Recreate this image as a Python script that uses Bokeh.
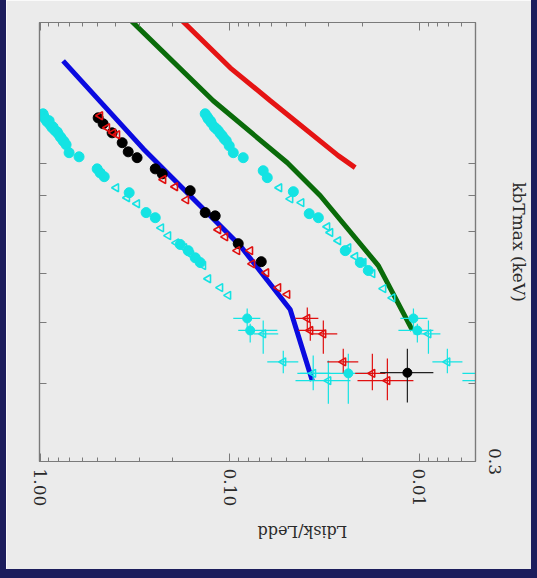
import math
from bokeh.plotting import figure
from bokeh.models import Range1d, LogAxis, FixedTicker, PrintfTickFormatter, CustomJSTickFormatter
from bokeh.embed import file_html
from bokeh.resources import INLINE

# ---------------- data (Ldisk/Ledd , kT_max in keV) ----------------
L_major = [1.0, 0.1, 0.01]
L_minor = [m * 10.0 ** e for e in (-1, -2, -3) for m in range(2, 10)]
kT_label_ticks = [0.3]
kT_minor = [0.4, 0.5, 0.6, 0.7, 0.8, 0.9]

# model lines
blue_L = [0.756, 0.286, 0.0880, 0.0480, 0.0367]
blue_kT = [1.311, 0.949, 0.664, 0.525, 0.404]
green_L = [0.352, 0.1222, 0.0497, 0.0333, 0.01646, 0.01088]
green_kT = [1.548, 1.132, 0.901, 0.798, 0.617, 0.486]
red_L = [0.1825, 0.0994, 0.0611, 0.0268, 0.0218]
red_kT = [1.531, 1.278, 1.132, 0.925, 0.885]

# cyan filled circles
cyan_circ_L = [0.964, 0.952, 0.941, 0.919, 0.896, 0.885, 0.864, 0.854, 0.834, 0.813, 0.804, 0.784,
               0.775, 0.756, 0.747, 0.729, 0.703, 0.623,
               0.500, 0.482, 0.459, 0.339, 0.276, 0.247, 0.1825, 0.1656, 0.152, 0.1431,
               0.1347, 0.1314, 0.1299, 0.1267, 0.1252, 0.1207, 0.1178, 0.115, 0.1122, 0.1095,
               0.1069, 0.1043, 0.1006, 0.0958, 0.0849,
               0.0666, 0.0634, 0.0462, 0.0381, 0.0341, 0.0246, 0.0205, 0.0186]
cyan_circ_kT = [1.079, 1.067, 1.059, 1.048, 1.052, 1.036, 1.025, 1.028, 1.014, 1.010, 1.003, 0.992,
                0.988, 0.977, 0.974, 0.963, 0.935, 0.921,
                0.881, 0.868, 0.856, 0.807, 0.750, 0.736, 0.667, 0.652, 0.635, 0.624,
                1.079, 1.067, 1.059, 1.052, 1.044, 1.028, 1.021, 1.014, 1.003, 0.995,
                0.984, 0.977, 0.959, 0.935, 0.918,
                0.875, 0.853, 0.810, 0.747, 0.736, 0.652, 0.624, 0.606]
# cyan open triangles
cyan_tri_L = [0.397, 0.3475, 0.308, 0.230, 0.211, 0.1915, 0.1738, 0.1596, 0.1484, 0.138, 0.1299, 0.1122, 0.1018,
              0.0548, 0.0479, 0.0419, 0.0306, 0.0295, 0.0268, 0.0237, 0.0218, 0.0197, 0.0177, 0.01549, 0.01388]
cyan_tri_kT = [0.822, 0.792, 0.775, 0.709, 0.689, 0.671, 0.659, 0.642, 0.630, 0.617, 0.588, 0.569, 0.553,
               0.822, 0.789, 0.778, 0.712, 0.697, 0.676, 0.659, 0.638, 0.624, 0.599, 0.567, 0.548]
# cyan points with error bars
cyan_eb_circ_L = [0.0809, 0.078, 0.0237, 0.01075, 0.01025]
cyan_eb_circ_kT = [0.508, 0.486, 0.415, 0.508, 0.486]
cyan_eb_tri_L = [0.0666, 0.0522, 0.0363, 0.0302, 0.00896, 0.00712, 0.00477, 0.00477]
cyan_eb_tri_kT = [0.480, 0.433, 0.415, 0.404, 0.480, 0.433, 0.415, 0.404]
cyan_eb_L = cyan_eb_circ_L + cyan_eb_tri_L
cyan_eb_kT = cyan_eb_circ_kT + cyan_eb_tri_kT
cyan_L_hi = [0.0958, 0.0902, 0.0425, 0.0126, 0.0129, 0.0751, 0.0634, 0.0440, 0.0450, 0.01075, 0.00854, 0.00593, 0.00593]
cyan_L_lo = [0.0690, 0.0561, 0.0175, 0.00907, 0.00844, 0.0555, 0.0435, 0.0295, 0.0231, 0.00775, 0.00593, 0.0040, 0.0040]
cyan_kT_lo = [0.486, 0.465, 0.371, 0.486, 0.465, 0.446, 0.415, 0.390, 0.371, 0.446, 0.415, 0.390, 0.371]
cyan_kT_hi = [0.527, 0.498, 0.446, 0.527, 0.498, 0.504, 0.451, 0.443, 0.435, 0.504, 0.4545, 0.443, 0.435]

# red open triangles
red_tri_L = [0.482, 0.443, 0.412, 0.392, 0.224, 0.194, 0.1697, 0.115, 0.1056, 0.0913, 0.078, 0.0761, 0.0642, 0.0555, 0.0497]
red_tri_kT = [1.071, 1.025, 1.006, 0.999, 0.847, 0.825, 0.786, 0.704, 0.686, 0.652, 0.652, 0.621, 0.601, 0.569, 0.555]
red_eb_L = [0.0390, 0.0376, 0.0321, 0.0252, 0.0177, 0.01475]
red_eb_kT = [0.508, 0.486, 0.480, 0.433, 0.415, 0.404]
red_L_hi = [0.0451, 0.0435, 0.0376, 0.0306, 0.0218, 0.0212]
red_L_lo = [0.0341, 0.0313, 0.0271, 0.0210, 0.0151, 0.01075]
red_kT_lo = [0.486, 0.468, 0.446, 0.415, 0.390, 0.376]
red_kT_hi = [0.529, 0.502, 0.504, 0.4545, 0.446, 0.4385]

# black filled circles
black_L = [0.494, 0.465, 0.417, 0.369, 0.343, 0.308, 0.247, 0.227, 0.1616, 0.1347, 0.1193, 0.0902, 0.0682]
black_kT = [1.063, 1.040, 1.006, 0.970, 0.938, 0.918, 0.881, 0.865, 0.813, 0.750, 0.741, 0.669, 0.626]
black_eb_L = [0.01157]
black_eb_kT = [0.416]
black_L_hi = [0.0161]
black_L_lo = [0.00844]
black_kT_lo = [0.3727]
black_kT_hi = [0.4545]

# ---------------- styling ----------------
NAVY = "#1c1d5c"
PANEL = "#ebebeb"
FRAME = "#7a7a7a"
TXT = "#2a2a2a"
CYAN = "#14e3e3"
RED = "#e00f0f"
BLACK = "#000000"
BLUE = "#0a0ae0"
GREEN = "#0a6b0a"
RED_LINE = "#e51414"
FONT = "DejaVu Serif"

p = figure(width=525, height=569, x_axis_type="log", y_axis_type="log",
           x_range=Range1d(1.007, 0.00506), y_range=Range1d(0.3, 1.51),
           x_axis_location="below", y_axis_location="right",
           output_backend="svg", toolbar_location=None,
           min_border_left=33, min_border_right=68, min_border_top=22, min_border_bottom=117,
           background_fill_color=PANEL, border_fill_color=PANEL,
           outline_line_color=FRAME, outline_line_width=1.2)
p.styles = {"box-sizing": "content-box",
            "border-left": f"6px solid {NAVY}", "border-right": f"6px solid {NAVY}",
            "border-bottom": f"9px solid {NAVY}", "border-top": "0px"}
p.grid.visible = False


def style_axis(ax):
    ax.axis_line_color = FRAME
    ax.axis_line_width = 1.2
    ax.major_tick_line_color = FRAME
    ax.minor_tick_line_color = FRAME
    ax.major_tick_out = 0
    ax.minor_tick_out = 0
    ax.major_label_text_font = FONT
    ax.major_label_text_color = TXT
    ax.major_label_text_font_size = "17px"
    ax.axis_label_text_font = FONT
    ax.axis_label_text_color = TXT
    ax.axis_label_text_font_style = "normal"
    ax.axis_label_text_font_size = "16px"


# bottom: Ldisk/Ledd
bx = p.xaxis[0]
style_axis(bx)
bx.ticker = FixedTicker(ticks=L_major, minor_ticks=L_minor)
bx.formatter = PrintfTickFormatter(format="%.2f")
bx.major_tick_in = 8
bx.minor_tick_in = 4
bx.major_label_orientation = "vertical"
bx.major_label_standoff = 7
bx.axis_label = "Ldisk/Ledd"
bx.axis_label_standoff = 22
bx.axis_label_orientation = math.pi

# right: kT
ry = p.yaxis[0]
style_axis(ry)
ry.ticker = FixedTicker(ticks=kT_label_ticks, minor_ticks=kT_minor)
ry.formatter = PrintfTickFormatter(format="%.1f")
ry.major_tick_in = 7
ry.minor_tick_in = 7
ry.major_label_orientation = "vertical"
ry.major_label_standoff = 13
ry.axis_label = "kbTmax (keV)"
ry.axis_label_text_font_size = "17px"
ry.axis_label_standoff = 5
ry.axis_label_orientation = "vertical"

top = LogAxis(ticker=FixedTicker(ticks=L_major, minor_ticks=L_minor),
              formatter=CustomJSTickFormatter(code="return ''"))
style_axis(top)
top.major_tick_in = 8
top.minor_tick_in = 4
p.add_layout(top, "above")

left = LogAxis(ticker=FixedTicker(ticks=[], minor_ticks=kT_minor),
               formatter=CustomJSTickFormatter(code="return ''"))
style_axis(left)
left.minor_tick_in = 7
p.add_layout(left, "left")

# model curves
p.line(blue_L, blue_kT, line_color=BLUE, line_width=5)
p.line(green_L, green_kT, line_color=GREEN, line_width=5)
p.line(red_L, red_kT, line_color=RED_LINE, line_width=5)

# error bars
for Ls, ks, lo, hi, klo, khi, col in [
        (cyan_eb_L, cyan_eb_kT, cyan_L_lo, cyan_L_hi, cyan_kT_lo, cyan_kT_hi, CYAN),
        (red_eb_L, red_eb_kT, red_L_lo, red_L_hi, red_kT_lo, red_kT_hi, RED),
        (black_eb_L, black_eb_kT, black_L_lo, black_L_hi, black_kT_lo, black_kT_hi, "#222222")]:
    p.segment(x0=lo, y0=ks, x1=hi, y1=ks, line_color=col, line_width=1.2)
    p.segment(x0=Ls, y0=klo, x1=Ls, y1=khi, line_color=col, line_width=1.2)

# points
TRI_ANGLE = math.pi / 2
p.scatter(cyan_circ_L, cyan_circ_kT, marker="circle", size=10, fill_color=CYAN, line_color=CYAN)
p.scatter(cyan_eb_circ_L, cyan_eb_circ_kT, marker="circle", size=9, fill_color=CYAN, line_color=CYAN)
p.scatter(cyan_tri_L, cyan_tri_kT, marker="triangle", angle=TRI_ANGLE, size=8,
          fill_color=None, line_color=CYAN, line_width=1.6)
p.scatter(cyan_eb_tri_L, cyan_eb_tri_kT, marker="triangle", angle=TRI_ANGLE, size=8,
          fill_color=None, line_color=CYAN, line_width=1.6)
p.scatter(black_L, black_kT, marker="circle", size=10, fill_color=BLACK, line_color=BLACK)
p.scatter(black_eb_L, black_eb_kT, marker="circle", size=9, fill_color=BLACK, line_color=BLACK)
p.scatter(red_tri_L, red_tri_kT, marker="triangle", angle=TRI_ANGLE, size=8,
          fill_color=None, line_color=RED, line_width=1.6)
p.scatter(red_eb_L, red_eb_kT, marker="triangle", angle=TRI_ANGLE, size=8,
          fill_color=None, line_color=RED, line_width=1.6)

open("out.html", "w").write(file_html(p, INLINE))
